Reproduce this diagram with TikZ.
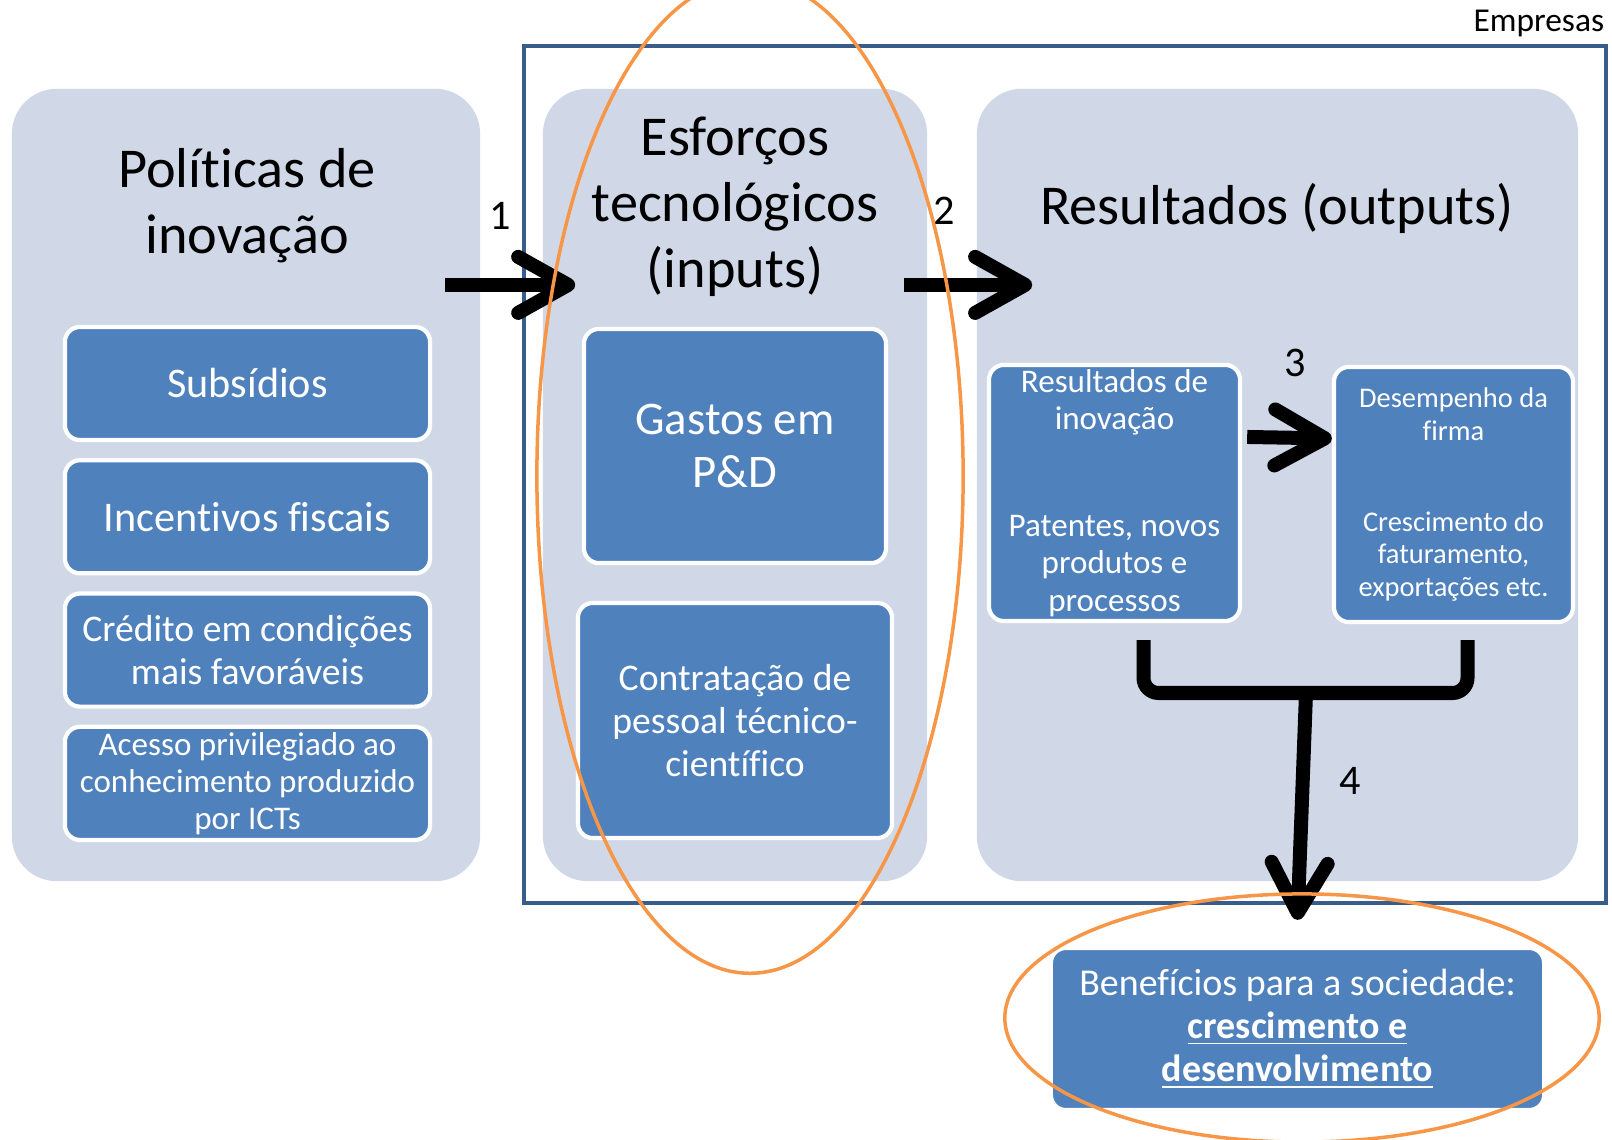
\documentclass[tikz,border=0pt]{standalone}
\usepackage{fontspec}
\setmainfont{Carlito}[Ligatures=NoCommon]
\usepackage{xcolor}
\usetikzlibrary{positioning,arrows.meta}

\definecolor{panelbg}{HTML}{D0D8E8}
\definecolor{boxblue}{HTML}{4F81BD}
\definecolor{framecol}{HTML}{385D8A}
\definecolor{markorange}{HTML}{F79646}

\newcommand{\fsz}[2]{\fontsize{#1}{#2}\selectfont}

\begin{document}
\begin{tikzpicture}[
  x=0.01cm, y=-0.01cm,
  node distance=0.16cm,
  every text node part/.style={align=center},
  panel/.style={rectangle, fill=panelbg, rounded corners=0.45cm, minimum height=7.92cm},
  heading/.style={font=\fsz{16}{18.7}, inner sep=0pt},
  blk/.style={draw=white, line width=1.2pt, fill=boxblue, rounded corners=0.15cm, text=white, inner sep=0pt},
  pol/.style={blk, minimum width=3.65cm, minimum height=1.13cm},
  num/.style={font=\fsz{12}{14}, inner sep=0pt},
  arr/.style={-{Straight Barb[length=0.5cm, width=0.56cm, round]}, line width=0.14cm},
  oval/.style={draw=markorange, line width=0.035cm}
]
  \useasboundingbox (0,0) rectangle (1612,1140);

  % panels and firm frame
  \node[panel, minimum width=4.68cm] (politicas) at (246,485) {};
  \node[panel, minimum width=3.84cm] (esforcos) at (735,485) {};
  \node[panel, minimum width=6.01cm] (resultados) at (1277.5,485) {};
  \node[draw=framecol, line width=0.04cm, minimum width=10.82cm, minimum height=8.57cm] (empresas) at (1065,474.5) {};
  \node[font=\fsz{9.5}{11}, anchor=south east, inner sep=1pt] (emplabel) at ([yshift=0.03cm]empresas.north east) {Empresas};

  \node[heading] (tpol) at (247,206) {Políticas de\\inovação};
  \node[heading] (tesf) at (735,207) {Esforços\\tecnológicos\\(inputs)};
  \node[heading] (tres) at (1277,208) {Resultados (outputs)};

  % policy instruments
  \node[pol, font=\fsz{12}{14}] (subsidios) at (247.5,383.5) {Subsídios};
  \node[pol, font=\fsz{12}{14}, below=of subsidios] (incentivos) {Incentivos fiscais};
  \node[pol, font=\fsz{10.7}{12.3}, below=of incentivos] (credito) {Crédito em condições\\mais favoráveis};
  \node[pol, font=\fsz{9.4}{10.5}, below=of credito] (acesso) {Acesso privilegiado ao\\conhecimento produzido\\por ICTs};

  % inputs
  \node[blk, font=\fsz{13.3}{15.2}, minimum width=3.02cm, minimum height=2.34cm] (gastos) at (735,446) {Gastos em\\P\&D};
  \node[blk, font=\fsz{10.7}{12.3}, minimum width=3.14cm, minimum height=2.35cm] (contratacao) at (735,720.5) {Contratação de\\pessoal técnico-\\científico};

  % outputs
  \node[blk, font=\fsz{9.4}{10.7}, minimum width=2.51cm, minimum height=2.56cm] (resinov) at (1114.5,493) {Resultados de\\inovação\\[0.69cm]Patentes, novos\\produtos e\\processos};
  \node[blk, font=\fsz{8.1}{9.2}, minimum width=2.39cm, minimum height=2.55cm] (desempenho) at (1453.5,494.5) {Desempenho da\\firma\\[0.59cm]Crescimento do\\faturamento,\\exportações etc.};
  \node[blk, font=\fsz{10.8}{12.3}, minimum width=4.93cm, minimum height=1.62cm] (beneficios) at (1297.5,1029) {Benefícios para a sociedade:\\\textbf{\underline{crescimento e}}\\\textbf{\underline{desenvolvimento}}};

  \draw[arr] ([xshift=-0.36cm, yshift=2cm]politicas.east) -- ([xshift=0.33cm, yshift=2cm]esforcos.west);
  \draw[arr] ([xshift=-0.24cm, yshift=2cm]esforcos.east) -- ([xshift=0.56cm, yshift=2cm]resultados.west);
  \draw[arr] ([xshift=0.05cm, yshift=0.56cm]resinov.east) -- ([yshift=0.56cm]desempenho.west);

  \coordinate (jn) at (1306,693);
  \coordinate (bl) at ([xshift=0.29cm, yshift=-0.17cm]resinov.south);
  \coordinate (br) at ([xshift=0.14cm, yshift=-0.16cm]desempenho.south);
  \draw[line width=0.14cm, rounded corners=0.15cm] (bl) |- (jn) -| (br);
  \draw[arr] (jn) -- ([yshift=0.26cm]beneficios.north);

  \node[num] (n1) at (500,216) {1};
  \node[num] (n2) at (944,211) {2};
  \node[num] (n3) at (1295,363) {3};
  \node[num] (n4) at (1350,781) {4};

  % highlights
  \draw[oval] (750,476) ellipse [x radius=2.13cm, y radius=4.97cm];
  \draw[oval] (1302,1018) ellipse [x radius=2.97cm, y radius=1.24cm];
\end{tikzpicture}
\end{document}
